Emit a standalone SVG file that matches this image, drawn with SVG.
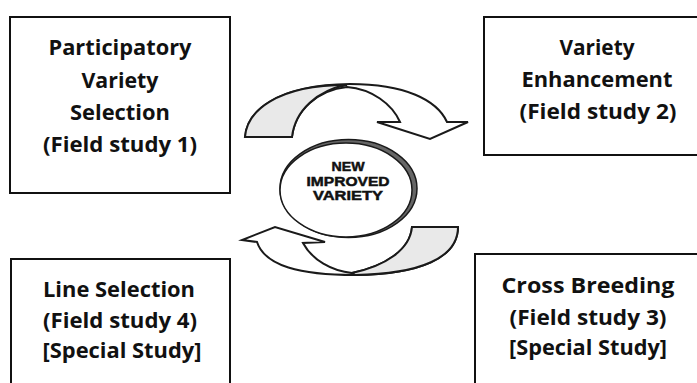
<svg xmlns="http://www.w3.org/2000/svg" width="697" height="383" viewBox="0 0 697 383">
<style>
.box{fill:#fff;stroke:#111;stroke-width:2}
.lbl{font-family:"Open Sans",Lato,"Liberation Sans",sans-serif;font-weight:bold;font-size:21px;fill:#111;text-anchor:middle}
.arw{fill:#fff;stroke:#1a1a1a;stroke-width:2;stroke-linejoin:miter}
.gry{fill:#e9e9e9;stroke:#1a1a1a;stroke-width:2}
.ctr{font-family:"Liberation Sans",Arial,sans-serif;font-weight:bold;font-size:13.5px;fill:#111;text-anchor:middle;stroke:#111;stroke-width:0.5}
</style>
<rect width="697" height="383" fill="#fff"/>
<g id="node-participatory">
<rect class="box" x="10" y="17" width="220" height="176"/>
<text class="lbl" x="120" y="55" textLength="143" lengthAdjust="spacingAndGlyphs">Participatory</text>
<text class="lbl" x="120" y="88" textLength="77" lengthAdjust="spacingAndGlyphs">Variety</text>
<text class="lbl" x="120" y="120" textLength="100" lengthAdjust="spacingAndGlyphs">Selection</text>
<text class="lbl" x="120" y="152" textLength="154" lengthAdjust="spacingAndGlyphs">(Field study 1)</text>
</g>
<g id="node-enhancement">
<rect class="box" x="484" y="17" width="225" height="138"/>
<text class="lbl" x="597" y="55" textLength="75" lengthAdjust="spacingAndGlyphs">Variety</text>
<text class="lbl" x="597" y="87" textLength="151" lengthAdjust="spacingAndGlyphs">Enhancement</text>
<text class="lbl" x="598" y="119" textLength="157" lengthAdjust="spacingAndGlyphs">(Field study 2)</text>
</g>
<g id="node-cross">
<rect class="box" x="475" y="254" width="235" height="140"/>
<text class="lbl" x="588" y="293" textLength="173" lengthAdjust="spacingAndGlyphs">Cross Breeding</text>
<text class="lbl" x="588" y="325" textLength="157" lengthAdjust="spacingAndGlyphs">(Field study 3)</text>
<text class="lbl" x="588" y="355" textLength="158" lengthAdjust="spacingAndGlyphs">[Special Study]</text>
</g>
<g id="node-line">
<rect class="box" x="11" y="259" width="219" height="140"/>
<text class="lbl" x="119" y="297" textLength="152" lengthAdjust="spacingAndGlyphs">Line Selection</text>
<text class="lbl" x="120" y="328" textLength="154" lengthAdjust="spacingAndGlyphs">(Field study 4)</text>
<text class="lbl" x="122" y="358" textLength="159" lengthAdjust="spacingAndGlyphs">[Special Study]</text>
</g>
<g id="connectors">
<path class="arw" d="M245,137 C247,112 275,85 350,84 C405,84 437,100 447,122 L468,122 L430,139 L377,122 L400,122 C392,104 372,89 347,87 C318,90 295,110 292,137 Z"/>
<path class="gry" d="M245,137 C247,112 275,85 347,85 C318,90 295,110 292,137 Z"/>
<path class="arw" d="M458,227 C458,258 420,274 355,275 C300,275 265,266 257,242 L242,240 L275,227 L325,242 L303,243 C312,260 332,271 352,273 C385,266 410,250 412,227 Z"/>
<path class="gry" d="M412,227 L458,227 C458,258 420,274 355,275 L352,273 C385,266 410,250 412,227 Z"/>
</g>
<g id="node-center">
<ellipse cx="348.5" cy="188.5" rx="68.5" ry="49" fill="#666" stroke="#1a1a1a" stroke-width="1.5"/>
<ellipse cx="346" cy="190" rx="66" ry="47" fill="#fff" stroke="#1a1a1a" stroke-width="1.5"/>
<text class="ctr" x="348" y="171" textLength="33" lengthAdjust="spacingAndGlyphs">NEW</text>
<text class="ctr" x="348" y="186" textLength="83" lengthAdjust="spacingAndGlyphs">IMPROVED</text>
<text class="ctr" x="348" y="200" textLength="70" lengthAdjust="spacingAndGlyphs">VARIETY</text>
</g>
</svg>
